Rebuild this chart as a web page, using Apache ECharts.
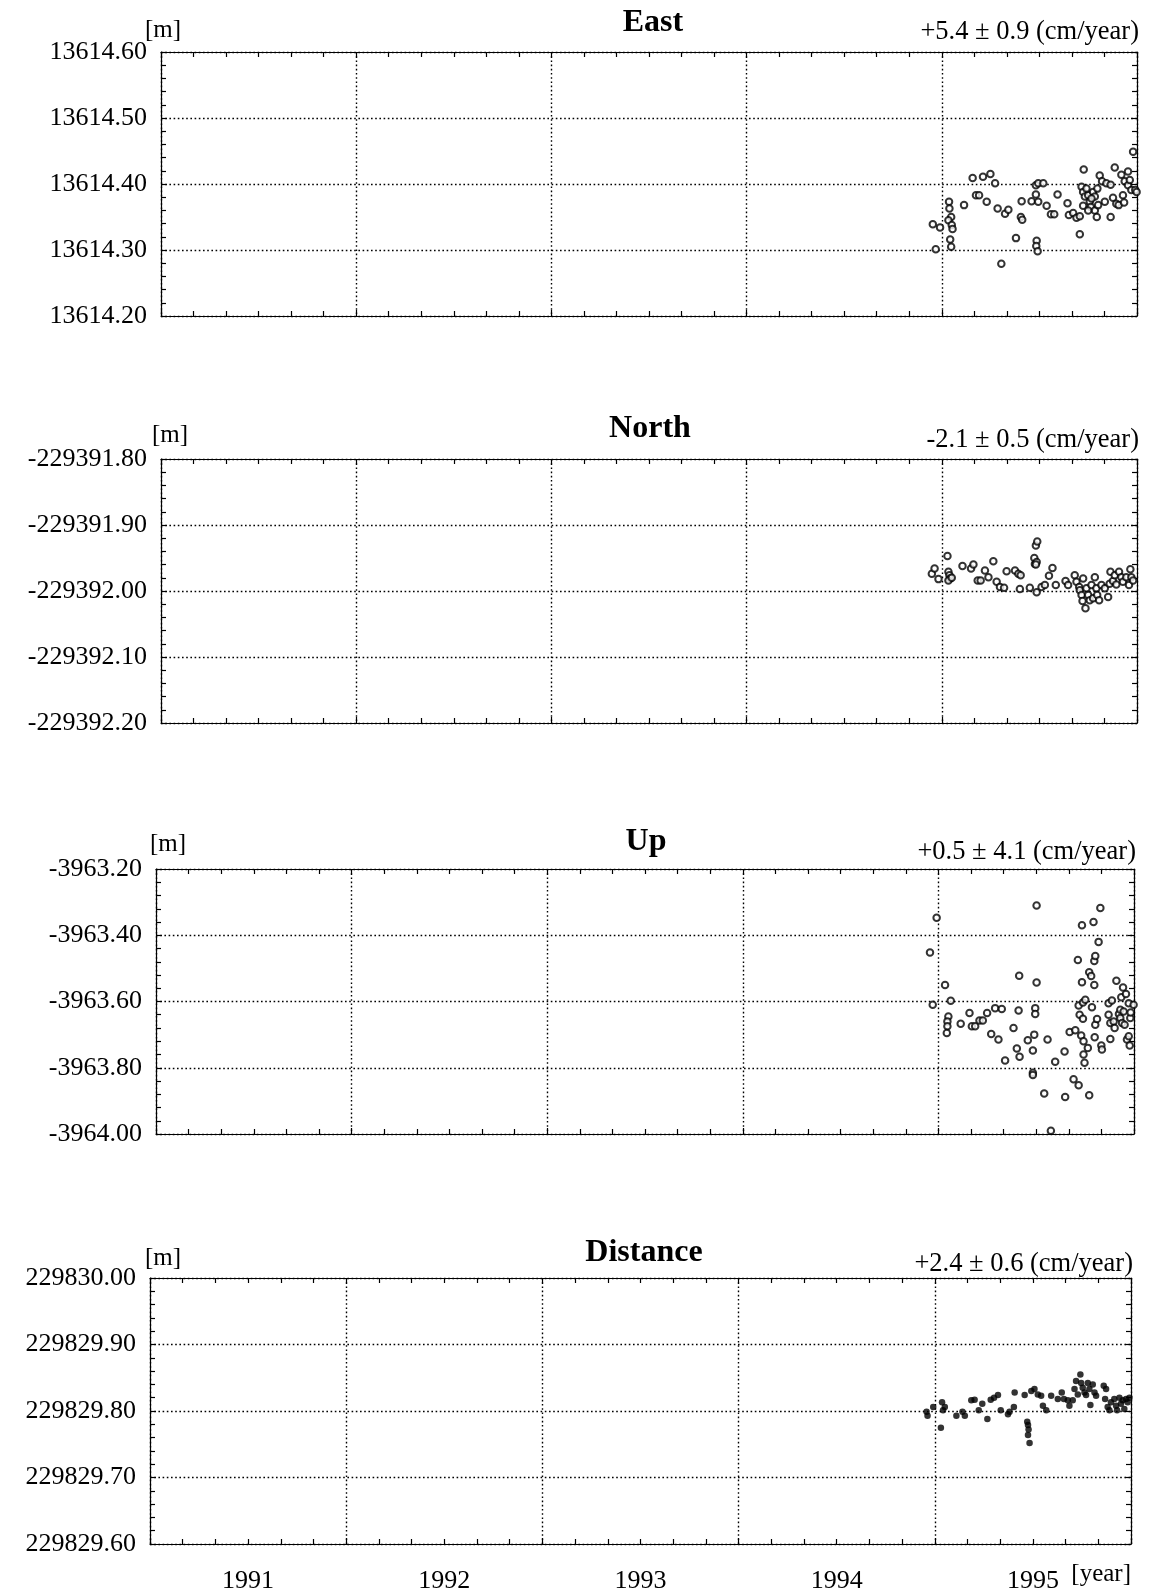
<!DOCTYPE html>
<html><head><meta charset="utf-8">
<script src="https://cdn.jsdelivr.net/npm/echarts@6/dist/echarts.min.js"></script>
<style>html,body{margin:0;padding:0;background:#fff}#c{width:1151px;height:1594px}</style>
</head><body><div id="c"></div><script>
const panelTitles = ['East', 'North', 'Up', 'Distance'];
const rateLabels = ['+5.4 \u00b1 0.9 (cm/year)', '-2.1 \u00b1 0.5 (cm/year)', '+0.5 \u00b1 4.1 (cm/year)', '+2.4 \u00b1 0.6 (cm/year)'];
const unitLabel = '[m]';
const xUnitLabel = '[year]';
const yMins = [13614.20, -229392.20, -3964.00, 229829.60];
const yMaxs = [13614.60, -229391.80, -3963.20, 229830.00];
const yIntervals = [0.1, 0.1, 0.2, 0.1];
const yearMin = 1991, yearMax = 1996;
const yearTickLabels = ['1991', '1992', '1993', '1994', '1995'];

const eastData = [
[1994.954,13614.339],[1994.991,13614.334],[1994.969,13614.301],[1995.037,13614.373],[1995.039,13614.363],
[1995.048,13614.350],[1995.034,13614.345],[1995.051,13614.338],[1995.055,13614.332],[1995.043,13614.316],
[1995.048,13614.305],[1995.114,13614.368],[1995.158,13614.409],[1995.175,13614.383],[1995.191,13614.383],
[1995.211,13614.411],[1995.249,13614.415],[1995.273,13614.401],[1995.230,13614.373],[1995.286,13614.363],
[1995.324,13614.355],[1995.341,13614.361],[1995.305,13614.279],[1995.380,13614.318],[1995.405,13614.350],
[1995.412,13614.346],[1995.409,13614.374],[1995.460,13614.374],[1995.482,13614.398],[1995.494,13614.401],
[1995.520,13614.401],[1995.482,13614.384],[1995.494,13614.373],[1995.486,13614.314],[1995.484,13614.306],
[1995.491,13614.298],[1995.537,13614.367],[1995.559,13614.354],[1995.576,13614.354],[1995.593,13614.384],
[1995.644,13614.371],[1995.651,13614.353],[1995.673,13614.356],[1995.690,13614.349],[1995.707,13614.351],
[1995.707,13614.324],[1995.716,13614.396],[1995.727,13614.422],[1995.724,13614.388],[1995.733,13614.381],
[1995.724,13614.367],[1995.750,13614.383],[1995.758,13614.373],[1995.775,13614.388],[1995.784,13614.381],
[1995.763,13614.365],[1995.784,13614.360],[1995.794,13614.350],[1995.797,13614.393],[1995.809,13614.413],
[1995.821,13614.404],[1995.835,13614.373],[1995.843,13614.401],[1995.865,13614.399],[1995.877,13614.379],
[1995.886,13614.425],[1995.865,13614.350],[1995.894,13614.370],[1995.906,13614.368],[1995.920,13614.414],
[1995.928,13614.383],[1995.934,13614.372],[1995.937,13614.404],[1995.954,13614.419],[1995.954,13614.398],
[1995.963,13614.406],[1995.971,13614.391],[1995.980,13614.449],[1995.991,13614.391],[1995.998,13614.388],
[1995.741,13614.393],[1995.767,13614.378],[1995.801,13614.368],[1995.750,13614.360]
];
const northData = [
[1994.949,-229391.974],[1994.963,-229391.966],[1994.983,-229391.982],[1995.029,-229391.947],[1995.034,-229391.971],
[1995.039,-229391.976],[1995.043,-229391.981],[1995.034,-229391.984],[1995.051,-229391.980],[1995.106,-229391.962],
[1995.150,-229391.966],[1995.162,-229391.960],[1995.184,-229391.984],[1995.199,-229391.984],[1995.221,-229391.969],
[1995.239,-229391.979],[1995.264,-229391.955],[1995.281,-229391.986],[1995.298,-229391.994],[1995.319,-229391.995],
[1995.332,-229391.970],[1995.375,-229391.969],[1995.392,-229391.974],[1995.404,-229391.976],[1995.400,-229391.997],
[1995.451,-229391.995],[1995.474,-229391.950],[1995.482,-229391.931],[1995.489,-229391.925],[1995.477,-229391.959],
[1995.486,-229391.956],[1995.482,-229391.960],[1995.486,-229392.002],[1995.511,-229391.994],[1995.528,-229391.991],
[1995.549,-229391.977],[1995.567,-229391.965],[1995.584,-229391.991],[1995.634,-229391.985],[1995.647,-229391.991],
[1995.681,-229391.976],[1995.690,-229391.986],[1995.704,-229391.994],[1995.707,-229391.999],[1995.716,-229392.006],
[1995.724,-229391.981],[1995.721,-229392.015],[1995.736,-229392.026],[1995.741,-229391.996],[1995.750,-229392.006],
[1995.758,-229392.014],[1995.767,-229391.991],[1995.775,-229392.011],[1995.784,-229391.979],[1995.792,-229391.996],
[1995.796,-229392.006],[1995.806,-229392.014],[1995.818,-229391.991],[1995.835,-229391.996],[1995.852,-229392.009],
[1995.860,-229391.989],[1995.864,-229391.971],[1995.877,-229391.985],[1995.886,-229391.976],[1995.894,-229391.990],
[1995.908,-229391.971],[1995.920,-229391.979],[1995.928,-229391.986],[1995.945,-229391.979],[1995.959,-229391.991],
[1995.966,-229391.967],[1995.971,-229391.979],[1995.980,-229391.984]
];
const upData = [
[1994.957,-3963.452],[1994.991,-3963.347],[1994.971,-3963.610],[1995.034,-3963.550],[1995.063,-3963.598],
[1995.051,-3963.645],[1995.046,-3963.660],[1995.046,-3963.675],[1995.043,-3963.695],[1995.114,-3963.667],
[1995.159,-3963.635],[1995.171,-3963.675],[1995.188,-3963.675],[1995.210,-3963.657],[1995.227,-3963.657],
[1995.249,-3963.635],[1995.270,-3963.698],[1995.290,-3963.620],[1995.307,-3963.715],[1995.324,-3963.623],
[1995.341,-3963.778],[1995.384,-3963.680],[1995.401,-3963.742],[1995.410,-3963.627],[1995.413,-3963.522],
[1995.415,-3963.767],[1995.457,-3963.717],[1995.483,-3963.815],[1995.483,-3963.822],[1995.483,-3963.748],
[1995.490,-3963.700],[1995.495,-3963.620],[1995.495,-3963.638],[1995.502,-3963.543],[1995.502,-3963.310],
[1995.541,-3963.878],[1995.558,-3963.715],[1995.575,-3963.990],[1995.597,-3963.782],[1995.645,-3963.751],
[1995.648,-3963.888],[1995.671,-3963.692],[1995.691,-3963.835],[1995.700,-3963.687],[1995.713,-3963.475],
[1995.717,-3963.853],[1995.717,-3963.612],[1995.722,-3963.640],[1995.730,-3963.703],[1995.734,-3963.370],
[1995.734,-3963.542],[1995.739,-3963.652],[1995.739,-3963.603],[1995.742,-3963.720],[1995.751,-3963.595],
[1995.742,-3963.760],[1995.747,-3963.785],[1995.764,-3963.740],[1995.771,-3963.883],[1995.771,-3963.512],
[1995.781,-3963.523],[1995.785,-3963.617],[1995.793,-3963.360],[1995.797,-3963.550],[1995.797,-3963.478],
[1995.802,-3963.463],[1995.802,-3963.670],[1995.811,-3963.653],[1995.799,-3963.708],[1995.819,-3963.420],
[1995.828,-3963.318],[1995.833,-3963.733],[1995.836,-3963.745],[1995.870,-3963.640],[1995.870,-3963.605],
[1995.879,-3963.713],[1995.887,-3963.597],[1995.879,-3963.665],[1995.896,-3963.660],[1995.901,-3963.680],
[1995.910,-3963.537],[1995.923,-3963.638],[1995.930,-3963.625],[1995.930,-3963.650],[1995.935,-3963.587],
[1995.939,-3963.665],[1995.944,-3963.558],[1995.947,-3963.630],[1995.952,-3963.670],[1995.959,-3963.577],
[1995.964,-3963.715],[1995.973,-3963.605],[1995.973,-3963.705],[1995.978,-3963.733],[1995.981,-3963.650],
[1995.983,-3963.633],[1995.998,-3963.610]
];
const distanceData = [
[1994.958,229829.799],[1994.963,229829.793],[1994.992,229829.806],[1995.031,229829.775],[1995.037,229829.813],
[1995.042,229829.801],[1995.051,229829.806],[1995.110,229829.793],[1995.141,229829.799],[1995.153,229829.793],
[1995.186,229829.816],[1995.203,229829.817],[1995.224,229829.801],[1995.242,229829.811],[1995.268,229829.788],
[1995.285,229829.817],[1995.302,229829.820],[1995.322,229829.824],[1995.336,229829.801],[1995.373,229829.795],
[1995.381,229829.799],[1995.403,229829.806],[1995.407,229829.828],[1995.458,229829.824],[1995.471,229829.784],
[1995.475,229829.779],[1995.478,229829.772],[1995.475,229829.764],[1995.483,229829.752],[1995.492,229829.830],
[1995.508,229829.833],[1995.525,229829.825],[1995.542,229829.823],[1995.551,229829.808],[1995.568,229829.801],
[1995.593,229829.823],[1995.627,229829.818],[1995.647,229829.828],[1995.658,229829.818],[1995.678,229829.816],
[1995.686,229829.808],[1995.703,229829.816],[1995.712,229829.833],[1995.720,229829.845],[1995.729,229829.825],
[1995.742,229829.855],[1995.746,229829.842],[1995.754,229829.835],[1995.763,229829.828],[1995.771,229829.824],
[1995.780,229829.842],[1995.788,229829.833],[1995.793,229829.809],[1995.805,229829.840],[1995.814,229829.828],
[1995.822,229829.823],[1995.861,229829.838],[1995.873,229829.833],[1995.868,229829.818],[1995.881,229829.806],
[1995.890,229829.801],[1995.898,229829.813],[1995.915,229829.818],[1995.924,229829.808],[1995.929,229829.801],
[1995.941,229829.820],[1995.949,229829.811],[1995.958,229829.816],[1995.966,229829.803],[1995.975,229829.818],
[1995.983,229829.813],[1995.992,229829.820]
];
const panelData = [eastData, northData, upData, distanceData];

// layout (pixels)
const grids = [
  {left: 161, top: 52, width: 976, height: 264},
  {left: 161, top: 459, width: 976, height: 264},
  {left: 156, top: 869, width: 978, height: 265},
  {left: 150, top: 1278, width: 981, height: 267}
];
const titlePos = [[653, 23], [650, 429], [646, 842], [644, 1253]];
const ratePos = [[1139, 32], [1139, 440], [1136, 852], [1133, 1264]];
const unitPos = [[145, 30], [152, 435], [150, 844], [145, 1258]];

const FONT = "'Liberation Serif','Times New Roman',serif";
const dotted = {color: '#000', width: 1.4, type: [1.6, 2.6]};
const axisLineStyle = {show: true, lineStyle: {color: '#000', width: 1.2}};

const xAxes = [], yAxes = [], series = [], graphics = [];
grids.forEach((g, i) => {
  const base = {
    type: 'value', gridIndex: i, min: yearMin, max: yearMax, interval: 1,
    axisLine: axisLineStyle,
    axisTick: {show: true, inside: true, length: 6, lineStyle: {color: '#000', width: 1.2}},
    minorTick: {show: true, splitNumber: 6, length: 5, lineStyle: {color: '#000', width: 1.2}},
    axisLabel: {show: false}
  };
  xAxes.push(Object.assign({}, base, {position: 'bottom', splitLine: {show: true, lineStyle: dotted}}));
  xAxes.push(Object.assign({}, base, {position: 'top', splitLine: {show: false}}));
  const ybase = {
    type: 'value', gridIndex: i, min: yMins[i], max: yMaxs[i], interval: yIntervals[i],
    axisLine: axisLineStyle,
    axisTick: {show: true, inside: true, length: 6, lineStyle: {color: '#000', width: 1.2}},
    minorTick: {show: true, splitNumber: 5, length: 5, lineStyle: {color: '#000', width: 1.2}}
  };
  yAxes.push(Object.assign({}, ybase, {
    position: 'left', splitLine: {show: true, lineStyle: dotted},
    axisLabel: {show: true, margin: 14, color: '#000', fontFamily: FONT, fontSize: 26,
      padding: [0, 0, 9, 0], formatter: v => v.toFixed(2)}
  }));
  yAxes.push(Object.assign({}, ybase, {position: 'right', splitLine: {show: false}, axisLabel: {show: false}}));
  const isDist = i === 3;
  series.push({
    type: 'scatter', xAxisIndex: i * 2, yAxisIndex: i * 2, data: panelData[i],
    symbol: isDist ? 'circle' : 'emptyCircle', symbolSize: isDist ? 6.5 : 6.5,
    itemStyle: {color: '#000', borderColor: '#000', borderWidth: isDist ? 0 : 1.5},
    emphasis: {disabled: true}, silent: true, z: 5
  });
  graphics.push({type: 'text', x: titlePos[i][0], y: titlePos[i][1],
    style: {text: panelTitles[i], font: "bold 32px " + FONT, fill: '#000', textAlign: 'center', textVerticalAlign: 'middle', align: 'center', verticalAlign: 'middle'}});
  graphics.push({type: 'text', x: ratePos[i][0], y: ratePos[i][1],
    style: {text: rateLabels[i], font: "26.5px " + FONT, fill: '#000', textAlign: 'right', textVerticalAlign: 'middle', align: 'right', verticalAlign: 'middle'}});
  graphics.push({type: 'text', x: unitPos[i][0], y: unitPos[i][1],
    style: {text: unitLabel, font: "25px " + FONT, fill: '#000', textAlign: 'left', textVerticalAlign: 'middle', align: 'left', verticalAlign: 'middle'}});
});
// year label axis on the bottom panel
xAxes.push({
  type: 'value', gridIndex: 3, position: 'bottom', min: yearMin, max: yearMax, interval: 0.5,
  axisLine: {show: false}, axisTick: {show: false}, splitLine: {show: false},
  axisLabel: {show: true, margin: 24, color: '#000', fontFamily: FONT, fontSize: 26,
    formatter: v => {
      const f = Math.floor(v + 1e-9);
      return Math.abs(v - f - 0.5) < 1e-6 ? (yearTickLabels[f - yearMin] || '') : '';
    }}
});
graphics.push({type: 'text', x: 1131, y: 1574,
  style: {text: xUnitLabel, font: "25px " + FONT, fill: '#000', textAlign: 'right', textVerticalAlign: 'middle', align: 'right', verticalAlign: 'middle'}});

const chart = echarts.init(document.getElementById('c'), null, {renderer: 'canvas'});
chart.setOption({
  animation: false,
  backgroundColor: '#fff',
  grid: grids.map(g => Object.assign({containLabel: false}, g)),
  xAxis: xAxes,
  yAxis: yAxes,
  series: series,
  graphic: {elements: graphics}
});
</script></body></html>
